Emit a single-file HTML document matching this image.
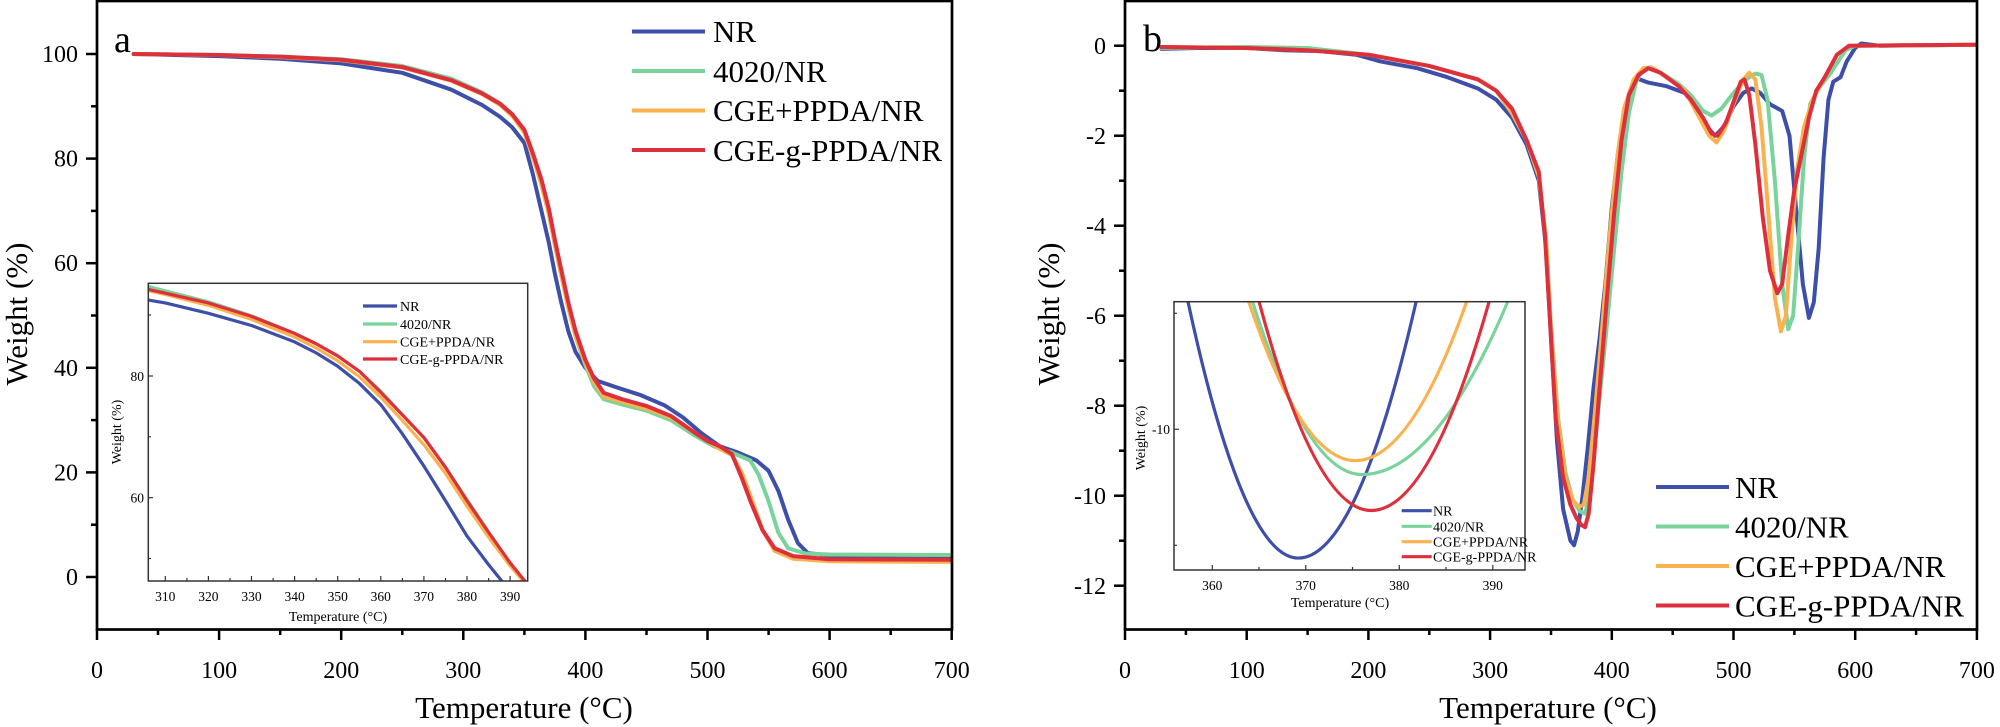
<!DOCTYPE html>
<html><head><meta charset="utf-8"><style>
html,body{margin:0;padding:0;background:#fff}
svg{display:block}
text{font-family:"Liberation Serif",serif;fill:#000}
.s{fill:none;stroke-width:4;stroke-linejoin:round;stroke-linecap:round}
.si{fill:none;stroke-width:3.2;stroke-linejoin:round}
.b{stroke:#3d4fa8}.g{stroke:#79d39a}.o{stroke:#f9b24f}.r{stroke:#de2f3c}
</style></head><body>
<svg width="2000" height="727" viewBox="0 0 2000 727" xmlns="http://www.w3.org/2000/svg">
<defs>
<clipPath id="ca"><rect x="97" y="0" width="855" height="629"/></clipPath>
<clipPath id="cai"><rect x="148.3" y="283.3" width="379.4" height="297.7"/></clipPath>
<clipPath id="cb"><rect x="1125" y="0" width="852" height="629"/></clipPath>
<clipPath id="cbi"><rect x="1174" y="301.7" width="351" height="268.3"/></clipPath>
</defs>

<!-- ========== Plot a ========== -->
<g clip-path="url(#ca)">
<g transform="matrix(1.221 0 0 -5.23 97 577)">
<polyline vector-effect="non-scaling-stroke" class="s b" points="30,100 100,99.6 150,99.1 200,98.2 250,96.4 290,93.2 315,90.3 330,88 340,86 350,83 357,77 364,70 370,64 375,58 380,52.7 386,47 392,43 400,40 410,37.5 425,36.3 445,34.8 465,32.8 480,30.5 495,27.5 510,25 525,23.8 540,22.3 550,20.3 558,16.5 566,11 574,6.5 582,4.6 600,4.1 700,4.0"/>
<polyline vector-effect="non-scaling-stroke" class="s g" points="30,100 100,99.8 150,99.5 200,99 250,97.7 290,95.3 315,92.7 330,90.6 340,88.5 350,85.3 357,80.5 364,75 370,69.5 375,63.5 380,58 386,51.5 392,46 400,40.5 407,36.5 415,34 430,33 450,31.8 470,30 490,27 505,25 520,23.8 535,22.3 542,19.5 550,14.5 558,8.5 566,5.5 580,4.5 600,4.3 700,4.2"/>
<polyline vector-effect="non-scaling-stroke" class="s o" points="30,100 100,99.8 150,99.4 200,98.8 250,97.4 290,94.9 315,92.4 330,90.3 340,88.2 350,85 357,80.3 364,75 370,69.5 375,63.5 380,58 386,51.5 392,46 400,40.8 407,37.3 415,34.5 430,33.5 450,32.2 470,30.5 490,27.5 500,26 510,24.5 520,23.3 528,20 536,15 545,9 555,5 570,3.5 600,3.0 700,2.9"/>
<polyline vector-effect="non-scaling-stroke" class="s r" points="30,100 100,99.8 150,99.5 200,98.9 250,97.5 290,95 315,92.5 330,90.5 340,88.5 350,85.5 357,81 364,76 370,70.5 375,64.5 380,59 386,52.5 392,47 400,41.5 407,38 415,35.2 430,34 450,32.7 470,30.8 490,27.5 500,26 510,25 520,23.5 528,19 536,14 545,9 555,5.5 570,4 600,3.4 700,3.3"/>
</g></g>
<!-- frame a -->
<rect x="97" y="1" width="855" height="628.5" fill="none" stroke="#000" stroke-width="2.7"/>
<g stroke="#000" stroke-width="2.5">
<line x1="97" y1="629" x2="97" y2="640"/><line x1="219.1" y1="629" x2="219.1" y2="640"/><line x1="341.2" y1="629" x2="341.2" y2="640"/><line x1="463.3" y1="629" x2="463.3" y2="640"/><line x1="585.4" y1="629" x2="585.4" y2="640"/><line x1="707.5" y1="629" x2="707.5" y2="640"/><line x1="829.6" y1="629" x2="829.6" y2="640"/><line x1="951.7" y1="629" x2="951.7" y2="640"/>
<line x1="158" y1="629" x2="158" y2="635"/><line x1="280.2" y1="629" x2="280.2" y2="635"/><line x1="402.3" y1="629" x2="402.3" y2="635"/><line x1="524.4" y1="629" x2="524.4" y2="635"/><line x1="646.5" y1="629" x2="646.5" y2="635"/><line x1="768.6" y1="629" x2="768.6" y2="635"/><line x1="890.7" y1="629" x2="890.7" y2="635"/>
<line x1="86" y1="577" x2="97" y2="577"/><line x1="86" y1="472.4" x2="97" y2="472.4"/><line x1="86" y1="367.8" x2="97" y2="367.8"/><line x1="86" y1="263.2" x2="97" y2="263.2"/><line x1="86" y1="158.6" x2="97" y2="158.6"/><line x1="86" y1="54" x2="97" y2="54"/>
<line x1="91" y1="524.7" x2="97" y2="524.7"/><line x1="91" y1="420.1" x2="97" y2="420.1"/><line x1="91" y1="315.5" x2="97" y2="315.5"/><line x1="91" y1="210.9" x2="97" y2="210.9"/><line x1="91" y1="106.3" x2="97" y2="106.3"/>
</g>
<g font-size="24" text-anchor="middle">
<text x="97" y="678">0</text><text x="219.1" y="678">100</text><text x="341.2" y="678">200</text><text x="463.3" y="678">300</text><text x="585.4" y="678">400</text><text x="707.5" y="678">500</text><text x="829.6" y="678">600</text><text x="951.7" y="678">700</text>
</g>
<g font-size="24" text-anchor="end">
<text x="78" y="585">0</text><text x="78" y="480.4">20</text><text x="78" y="375.8">40</text><text x="78" y="271.2">60</text><text x="78" y="166.6">80</text><text x="78" y="62">100</text>
</g>
<text x="524" y="718" font-size="31" text-anchor="middle">Temperature (°C)</text>
<text transform="translate(27,314) rotate(-90)" font-size="31" text-anchor="middle">Weight (%)</text>
<text x="114" y="52" font-size="38">a</text>
<!-- legend a -->
<g stroke-width="4">
<line class="b" x1="632" y1="31.5" x2="705" y2="31.5"/><line class="g" x1="632" y1="71" x2="705" y2="71"/><line class="o" x1="632" y1="110.5" x2="705" y2="110.5"/><line class="r" x1="632" y1="150" x2="705" y2="150"/>
</g>
<g font-size="31"><text x="713" y="42">NR</text><text x="713" y="82">4020/NR</text><text x="713" y="121">CGE+PPDA/NR</text><text x="713" y="161">CGE-g-PPDA/NR</text></g>

<!-- inset a -->
<rect x="148.3" y="283.3" width="379.4" height="297.7" fill="#fff"/>
<g clip-path="url(#cai)">
<g transform="matrix(4.31 0 0 -6.085 -1170.8 862.8)">
<polyline vector-effect="non-scaling-stroke" class="si b" points="305,92.6 310,92 320,90.3 330,88.3 340,85.6 345,83.8 350,81.6 355,78.8 360,75.3 365,70.5 370,65.2 375,59.5 380,53.7 385,49 389,45.5"/>
<polyline vector-effect="non-scaling-stroke" class="si g" points="305,94.9 310,94 320,92.2 330,89.9 340,87 345,85.3 350,83.3 355,80.8 360,77.5 365,73.7 370,69.8 375,65 380,59.7 385,54.4 390,49.3 394,45.6"/>
<polyline vector-effect="non-scaling-stroke" class="si o" points="305,94.2 310,93.4 320,91.6 330,89.3 340,86.4 345,84.6 350,82.5 355,79.9 360,76.5 365,72.7 370,68.7 375,64 380,58.6 385,53.5 390,48.8 394,45.5"/>
<polyline vector-effect="non-scaling-stroke" class="si r" points="305,94.4 310,93.6 320,92 330,89.8 340,87 345,85.3 350,83.3 355,80.8 360,77.3 365,73.6 370,69.9 375,65 380,59.5 385,54.3 390,49.3 394,45.8"/>
</g></g>
<rect x="148.3" y="283.3" width="379.4" height="297.7" fill="none" stroke="#333" stroke-width="1.5"/>
<g stroke="#333" stroke-width="1.2">
<line x1="165.3" y1="581" x2="165.3" y2="576"/><line x1="208.4" y1="581" x2="208.4" y2="576"/><line x1="251.5" y1="581" x2="251.5" y2="576"/><line x1="294.6" y1="581" x2="294.6" y2="576"/><line x1="337.7" y1="581" x2="337.7" y2="576"/><line x1="380.8" y1="581" x2="380.8" y2="576"/><line x1="423.9" y1="581" x2="423.9" y2="576"/><line x1="467" y1="581" x2="467" y2="576"/><line x1="510.1" y1="581" x2="510.1" y2="576"/>
<line x1="186.9" y1="581" x2="186.9" y2="578"/><line x1="230" y1="581" x2="230" y2="578"/><line x1="273.1" y1="581" x2="273.1" y2="578"/><line x1="316.2" y1="581" x2="316.2" y2="578"/><line x1="359.3" y1="581" x2="359.3" y2="578"/><line x1="402.4" y1="581" x2="402.4" y2="578"/><line x1="445.5" y1="581" x2="445.5" y2="578"/><line x1="488.6" y1="581" x2="488.6" y2="578"/>
<line x1="148.3" y1="376" x2="153" y2="376"/><line x1="148.3" y1="497.7" x2="153" y2="497.7"/><line x1="148.3" y1="315" x2="151" y2="315"/><line x1="148.3" y1="436.8" x2="151" y2="436.8"/><line x1="148.3" y1="558.5" x2="151" y2="558.5"/>
</g>
<g font-size="13.5" text-anchor="middle" fill="#222">
<text x="165.3" y="601">310</text><text x="208.4" y="601">320</text><text x="251.5" y="601">330</text><text x="294.6" y="601">340</text><text x="337.7" y="601">350</text><text x="380.8" y="601">360</text><text x="423.9" y="601">370</text><text x="467" y="601">380</text><text x="510.1" y="601">390</text>
<text x="338" y="621" font-size="14">Temperature (°C)</text>
</g>
<g font-size="13.5" text-anchor="end"><text x="144" y="381">80</text><text x="144" y="502.5">60</text></g>
<text transform="translate(121,432) rotate(-90)" font-size="14" text-anchor="middle">Weight (%)</text>
<g stroke-width="3.2">
<line class="b" x1="363" y1="306" x2="397" y2="306"/><line class="g" x1="363" y1="324" x2="397" y2="324"/><line class="o" x1="363" y1="341.7" x2="397" y2="341.7"/><line class="r" x1="363" y1="359" x2="397" y2="359"/>
</g>
<g font-size="14"><text x="400" y="311">NR</text><text x="400" y="329">4020/NR</text><text x="400" y="346.7">CGE+PPDA/NR</text><text x="400" y="364">CGE-g-PPDA/NR</text></g>

<!-- ========== Plot b ========== -->
<g clip-path="url(#cb)">
<g transform="matrix(1.217 0 0 -45 1125 45.7)">
<polyline vector-effect="non-scaling-stroke" class="s b" points="30,-0.07 60,-0.05 100,-0.05 130,-0.1 160,-0.12 190,-0.2 210,-0.35 240,-0.5 265,-0.7 290,-0.95 305,-1.2 318,-1.6 330,-2.2 340,-3 346,-4.5 350,-6.5 355,-8.8 360,-10.3 366,-11 369,-11.1 372,-10.8 376,-10 380,-9 385,-7.6 390,-6.5 395,-5.2 400,-3.6 405,-2.4 410,-1.5 415,-1 420,-0.72 430,-0.82 445,-0.9 460,-1.05 470,-1.4 478,-1.8 485,-2 492,-1.8 500,-1.35 508,-1.05 515,-0.95 522,-1.05 530,-1.3 540,-1.45 546,-2 552,-3.8 557,-5.3 562,-6.05 566,-5.7 570,-4.5 574,-2.5 578,-1.2 582,-0.8 588,-0.7 593,-0.35 600,-0.05 605,0.05 620,0 700,0.02"/>
<polyline vector-effect="non-scaling-stroke" class="s g" points="30,-0.05 100,-0.03 150,-0.05 200,-0.2 250,-0.45 290,-0.75 305,-1 318,-1.5 330,-2.1 340,-2.9 346,-4.3 350,-6.2 356,-8.3 362,-9.5 368,-10.1 374,-10.35 378,-10.4 381,-10.1 385,-9.2 390,-7.8 396,-6.2 402,-4.5 408,-2.8 414,-1.5 420,-0.8 426,-0.5 432,-0.48 440,-0.6 455,-0.85 465,-1.1 475,-1.45 482,-1.55 490,-1.4 500,-1.05 510,-0.75 518,-0.62 523,-0.65 528,-1.2 534,-3 540,-5.3 545,-6.3 549,-6 553,-4.5 558,-2.5 563,-1.3 570,-0.95 580,-0.6 592,-0.1 600,0 700,0.02"/>
<polyline vector-effect="non-scaling-stroke" class="s o" points="30,-0.03 100,-0.05 150,-0.1 200,-0.2 250,-0.45 290,-0.75 305,-1 318,-1.5 330,-2.1 340,-2.9 346,-4.3 350,-6.3 356,-8.4 362,-9.6 368,-10.1 373,-10.25 377,-10.2 381,-9.6 386,-8.2 392,-6.3 398,-4.3 404,-2.6 410,-1.4 418,-0.75 426,-0.5 434,-0.5 445,-0.7 460,-1 470,-1.5 480,-2 486,-2.15 492,-1.9 500,-1.3 508,-0.75 513,-0.6 518,-0.75 523,-1.8 528,-3.5 534,-5.6 539,-6.35 543,-6 547,-4.5 552,-2.8 558,-1.8 565,-1.2 575,-0.7 585,-0.2 595,0 700,0.02"/>
<polyline vector-effect="non-scaling-stroke" class="s r" points="30,-0.03 100,-0.05 150,-0.1 200,-0.2 250,-0.45 290,-0.75 305,-1 318,-1.4 330,-2.1 340,-2.8 345,-4.2 349,-6 354,-8.3 360,-9.6 366,-10.2 371,-10.5 375,-10.65 378,-10.7 381,-10.4 385,-9.3 390,-7.6 396,-5.6 402,-3.7 408,-2.1 414,-1.1 422,-0.65 430,-0.5 440,-0.6 455,-0.9 465,-1.2 475,-1.6 482,-1.95 487,-2 494,-1.7 500,-1.25 506,-0.8 509,-0.75 513,-1.1 518,-2.2 524,-3.8 530,-5 536,-5.5 540,-5.3 545,-4.2 550,-3.2 556,-2.4 562,-1.6 568,-1 575,-0.7 585,-0.2 595,0 700,0.02"/>
</g></g>
<rect x="1125" y="1" width="852" height="628.5" fill="none" stroke="#000" stroke-width="2.7"/>
<g stroke="#000" stroke-width="2.5">
<line x1="1125" y1="629" x2="1125" y2="640"/><line x1="1246.7" y1="629" x2="1246.7" y2="640"/><line x1="1368.4" y1="629" x2="1368.4" y2="640"/><line x1="1490.1" y1="629" x2="1490.1" y2="640"/><line x1="1611.8" y1="629" x2="1611.8" y2="640"/><line x1="1733.5" y1="629" x2="1733.5" y2="640"/><line x1="1855.2" y1="629" x2="1855.2" y2="640"/><line x1="1976.9" y1="629" x2="1976.9" y2="640"/>
<line x1="1185.9" y1="629" x2="1185.9" y2="635"/><line x1="1307.6" y1="629" x2="1307.6" y2="635"/><line x1="1429.3" y1="629" x2="1429.3" y2="635"/><line x1="1551" y1="629" x2="1551" y2="635"/><line x1="1672.7" y1="629" x2="1672.7" y2="635"/><line x1="1794.4" y1="629" x2="1794.4" y2="635"/><line x1="1916.1" y1="629" x2="1916.1" y2="635"/>
<line x1="1114" y1="45.7" x2="1125" y2="45.7"/><line x1="1114" y1="135.7" x2="1125" y2="135.7"/><line x1="1114" y1="225.7" x2="1125" y2="225.7"/><line x1="1114" y1="315.7" x2="1125" y2="315.7"/><line x1="1114" y1="405.7" x2="1125" y2="405.7"/><line x1="1114" y1="495.7" x2="1125" y2="495.7"/><line x1="1114" y1="585.7" x2="1125" y2="585.7"/>
<line x1="1119" y1="90.7" x2="1125" y2="90.7"/><line x1="1119" y1="180.7" x2="1125" y2="180.7"/><line x1="1119" y1="270.7" x2="1125" y2="270.7"/><line x1="1119" y1="360.7" x2="1125" y2="360.7"/><line x1="1119" y1="450.7" x2="1125" y2="450.7"/><line x1="1119" y1="540.7" x2="1125" y2="540.7"/>
</g>
<g font-size="24" text-anchor="middle">
<text x="1125" y="678">0</text><text x="1246.7" y="678">100</text><text x="1368.4" y="678">200</text><text x="1490.1" y="678">300</text><text x="1611.8" y="678">400</text><text x="1733.5" y="678">500</text><text x="1855.2" y="678">600</text><text x="1976.9" y="678">700</text>
</g>
<g font-size="24" text-anchor="end">
<text x="1106" y="54">0</text><text x="1106" y="144">-2</text><text x="1106" y="234">-4</text><text x="1106" y="324">-6</text><text x="1106" y="414">-8</text><text x="1106" y="504">-10</text><text x="1106" y="594">-12</text>
</g>
<text x="1548" y="718" font-size="31" text-anchor="middle">Temperature (°C)</text>
<text transform="translate(1059,314) rotate(-90)" font-size="31" text-anchor="middle">Weight (%)</text>
<text x="1143" y="51" font-size="38">b</text>
<g stroke-width="4">
<line class="b" x1="1656" y1="487" x2="1729" y2="487"/><line class="g" x1="1656" y1="526.5" x2="1729" y2="526.5"/><line class="o" x1="1656" y1="566" x2="1729" y2="566"/><line class="r" x1="1656" y1="605.5" x2="1729" y2="605.5"/>
</g>
<g font-size="31"><text x="1735" y="498">NR</text><text x="1735" y="537.5">4020/NR</text><text x="1735" y="577">CGE+PPDA/NR</text><text x="1735" y="616.5">CGE-g-PPDA/NR</text></g>

<!-- inset b -->
<rect x="1174" y="301.7" width="351" height="268.3" fill="#fff"/>
<g clip-path="url(#cbi)">
<g transform="matrix(9.35 0 0 -116 -2153.7 -730.7)">
<path vector-effect="non-scaling-stroke" class="si b" d="M356.6,-8.6 L357.4,-8.9 Q363.3,-11.11 369.2,-11.11 Q375.5,-11.11 381.8,-8.9 L382.6,-8.6"/>
<path vector-effect="non-scaling-stroke" class="si g" d="M363.8,-8.6 L364.3,-8.9 Q370.15,-10.39 376,-10.39 Q383.8,-10.39 391.6,-8.9 L392.4,-8.6"/>
<path vector-effect="non-scaling-stroke" class="si o" d="M363.4,-8.6 L363.9,-8.9 Q369.6,-10.27 375.3,-10.27 Q381.25,-10.27 387.2,-8.9 L387.8,-8.6"/>
<path vector-effect="non-scaling-stroke" class="si r" d="M364.6,-8.6 L365,-8.9 Q371,-10.7 377,-10.7 Q383.3,-10.7 389.6,-8.9 L390.1,-8.6"/>
</g></g>
<rect x="1174" y="301.7" width="351" height="268.3" fill="none" stroke="#333" stroke-width="1.5"/>
<g stroke="#333" stroke-width="1.2">
<line x1="1212.3" y1="570" x2="1212.3" y2="565"/><line x1="1305.8" y1="570" x2="1305.8" y2="565"/><line x1="1399.3" y1="570" x2="1399.3" y2="565"/><line x1="1492.8" y1="570" x2="1492.8" y2="565"/>
<line x1="1259" y1="570" x2="1259" y2="567"/><line x1="1352.5" y1="570" x2="1352.5" y2="567"/><line x1="1446" y1="570" x2="1446" y2="567"/>
<line x1="1174" y1="429.3" x2="1179" y2="429.3"/><line x1="1174" y1="313.3" x2="1177" y2="313.3"/><line x1="1174" y1="545.3" x2="1177" y2="545.3"/>
</g>
<g font-size="13.5" text-anchor="middle" fill="#222">
<text x="1212.3" y="590">360</text><text x="1305.8" y="590">370</text><text x="1399.3" y="590">380</text><text x="1492.8" y="590">390</text>
<text x="1340" y="607" font-size="14">Temperature (°C)</text>
</g>
<text x="1170" y="434" font-size="13.5" text-anchor="end">-10</text>
<text transform="translate(1145,438) rotate(-90)" font-size="14" text-anchor="middle">Weight (%)</text>
<g stroke-width="3.2">
<line class="b" x1="1401.7" y1="510.7" x2="1431.7" y2="510.7"/><line class="g" x1="1401.7" y1="526.3" x2="1431.7" y2="526.3"/><line class="o" x1="1401.7" y1="541.7" x2="1431.7" y2="541.7"/><line class="r" x1="1401.7" y1="556.7" x2="1431.7" y2="556.7"/>
</g>
<g font-size="14"><text x="1433" y="515.7">NR</text><text x="1433" y="531.3">4020/NR</text><text x="1433" y="546.7">CGE+PPDA/NR</text><text x="1433" y="561.7">CGE-g-PPDA/NR</text></g>
</svg>
</body></html>
